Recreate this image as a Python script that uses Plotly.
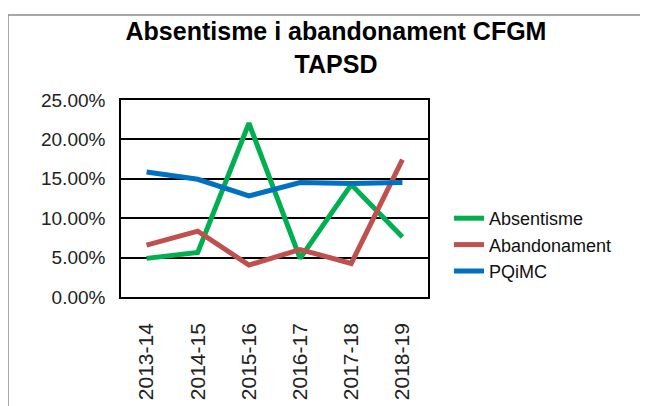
import plotly.graph_objects as go

categories = ["2013-14", "2014-15", "2015-16", "2016-17", "2017-18", "2018-19"]
absentisme = [0.049, 0.0565, 0.2205, 0.049, 0.1427, 0.0763]
abandonament = [0.0658, 0.0835, 0.0405, 0.0603, 0.0426, 0.1743]
pqimc = [0.1586, 0.1494, 0.1283, 0.1452, 0.1439, 0.1452]
y_ticks = [0, 0.05, 0.10, 0.15, 0.20, 0.25]

# page body adds an 8px margin, so the figure is drawn 8px smaller and offset
OFF = 8
W, H = 648 - OFF, 406 - OFF
L, R, T, B = 121 - OFF, 648 - 428, 100 - OFF, 406 - 297

fig = go.Figure()
for name, vals, col in [("Absentisme", absentisme, "#00B050"),
                        ("Abandonament", abandonament, "#C0504D"),
                        ("PQiMC", pqimc, "#0070C0")]:
    fig.add_trace(go.Scatter(x=categories, y=vals, name=name, mode="lines",
                             line=dict(color=col, width=5)))

pw = W - L - R
ph = H - T - B
def px_x(p):  # p in reference pixel coords
    return (p - OFF - L) / pw
def px_y(p):
    return (H - B - (p - OFF)) / ph

fig.update_layout(
    width=W, height=H,
    margin=dict(l=L, r=R, t=T, b=B, autoexpand=False),
    paper_bgcolor="white", plot_bgcolor="white",
    font=dict(family="Liberation Sans, Arial", size=19, color="#222222"),
    title=dict(text="<b>Absentisme i abandonament CFGM<br>TAPSD</b>",
               x=(336 - OFF) / W, xanchor="center", y=1 - (40 - OFF) / H, yanchor="top",
               font=dict(size=25, color="#000000")),
    xaxis=dict(type="category", range=[-0.5, 5.5], tickangle=-90, showgrid=False,
               showline=True, linecolor="#000000", linewidth=1.5, mirror=True,
               ticks="", ticklabelstandoff=16, tickfont=dict(size=21)),
    yaxis=dict(range=[0, 0.25], tickvals=y_ticks, tickformat=".2%",
               showgrid=True, gridcolor="#000000", gridwidth=1.5,
               showline=True, linecolor="#000000", linewidth=1.5, mirror=True,
               zeroline=False, ticks="", ticklabelstandoff=10, tickfont=dict(size=19)),
    legend=dict(x=px_x(449), xanchor="left", y=px_y(200), yanchor="top",
                font=dict(size=18, color="#111111"), tracegroupgap=0,
                bgcolor="rgba(0,0,0,0)"),
    shapes=[dict(type="rect", xref="paper", yref="paper",
                 x0=px_x(8), x1=px_x(720), y0=px_y(460), y1=px_y(15),
                 line=dict(color="#8c8c8c", width=1.5), layer="below")],
)

fig.write_html("out.html")
